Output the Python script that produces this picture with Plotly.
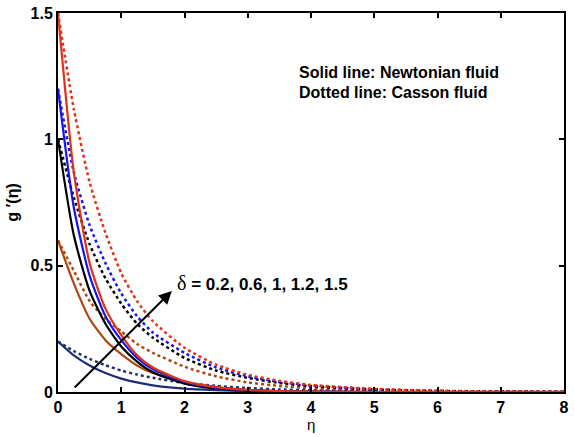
import plotly.graph_objects as go

eta = [0, 0.25, 0.5, 0.75, 1, 1.25, 1.5, 2, 2.5, 3, 3.5, 4, 5, 6, 7, 8]

delta_labels = ["0.2", "0.6", "1", "1.2", "1.5"]
colors = ["#1b2f78", "#b0450f", "#000000", "#1414f0", "#e0321a"]

# Newtonian fluid (solid lines)
newt_02 = [0.2, 0.145, 0.105, 0.075, 0.053, 0.038, 0.026, 0.013, 0.007, 0.003, 0.001, 0.0, 0.0, 0.0, 0.0, 0.0]
newt_06 = [0.6, 0.43, 0.29, 0.205, 0.15, 0.105, 0.075, 0.038, 0.019, 0.009, 0.004, 0.002, 0.0, 0.0, 0.0, 0.0]
newt_10 = [1.0, 0.62, 0.40, 0.27, 0.18, 0.12, 0.078, 0.033, 0.014, 0.006, 0.003, 0.001, 0.0, 0.0, 0.0, 0.0]
newt_12 = [1.2, 0.73, 0.46, 0.30, 0.205, 0.135, 0.09, 0.04, 0.017, 0.007, 0.003, 0.001, 0.0, 0.0, 0.0, 0.0]
newt_15 = [1.5, 0.87, 0.51, 0.33, 0.225, 0.145, 0.097, 0.043, 0.019, 0.008, 0.004, 0.002, 0.0, 0.0, 0.0, 0.0]

# Casson fluid (dotted lines)
cas_02 = [0.2, 0.162, 0.131, 0.106, 0.085, 0.069, 0.056, 0.036, 0.024, 0.016, 0.010, 0.007, 0.003, 0.001, 0.0, 0.0]
cas_06 = [0.6, 0.48, 0.36, 0.29, 0.24, 0.19, 0.155, 0.10, 0.062, 0.038, 0.024, 0.015, 0.006, 0.002, 0.001, 0.0]
cas_10 = [1.0, 0.77, 0.585, 0.45, 0.35, 0.27, 0.215, 0.135, 0.085, 0.056, 0.036, 0.023, 0.010, 0.004, 0.002, 0.001]
cas_12 = [1.2, 0.87, 0.66, 0.51, 0.39, 0.30, 0.235, 0.155, 0.097, 0.062, 0.040, 0.026, 0.011, 0.004, 0.002, 0.001]
cas_15 = [1.5, 1.12, 0.83, 0.63, 0.47, 0.36, 0.28, 0.175, 0.108, 0.068, 0.044, 0.028, 0.012, 0.005, 0.002, 0.001]

newt = [newt_02, newt_06, newt_10, newt_12, newt_15]
cas = [cas_02, cas_06, cas_10, cas_12, cas_15]

fig = go.Figure()
for lab, c, ys in zip(delta_labels, colors, cas):
    fig.add_trace(go.Scatter(x=eta, y=ys, mode="lines", name="Casson δ=" + lab,
                             line=dict(color=c, width=2.5, dash="3px,3px", shape="spline", smoothing=0.6)))
for lab, c, ys in zip(delta_labels, colors, newt):
    fig.add_trace(go.Scatter(x=eta, y=ys, mode="lines", name="Newtonian δ=" + lab,
                             line=dict(color=c, width=2.2, shape="spline", smoothing=0.6)))

font_main = dict(family="Arial, Liberation Sans, sans-serif", size=16, color="black")

fig.add_annotation(x=1.8, y=0.4, ax=0.24, ay=0.012, xref="x", yref="y", axref="x", ayref="y",
                   text="", showarrow=True, arrowhead=2, arrowsize=1.3, arrowwidth=2, arrowcolor="black")
fig.add_annotation(x=1.85, y=0.43, xref="x", yref="y", xanchor="left", yanchor="middle",
                   text="<span style='font-family:Liberation Serif;font-size:20px'>δ</span><b> = 0.2, 0.6, 1, 1.2, 1.5</b>",
                   showarrow=False, font=dict(family="Arial, Liberation Sans, sans-serif", size=17, color="black"))
fig.add_annotation(x=3.78, y=1.265, xref="x", yref="y", xanchor="left", yanchor="middle",
                   text="<b>Solid line: Newtonian fluid</b>", showarrow=False, font=font_main)
fig.add_annotation(x=3.78, y=1.185, xref="x", yref="y", xanchor="left", yanchor="middle",
                   text="<b>Dotted line: Casson fluid</b>", showarrow=False, font=font_main)
fig.add_annotation(x=0.5, y=-0.058, xref="paper", yref="paper", xanchor="center", yanchor="top",
                   text="η", showarrow=False, font=dict(family="Arial", size=15, color="black"))

axis_common = dict(showgrid=False, zeroline=False, showline=True, linecolor="black", linewidth=2,
                   mirror="ticks", ticks="inside", ticklen=5, tickwidth=1.5, tickcolor="black",
                   tickfont=dict(family="Arial, Liberation Sans, sans-serif", size=16, color="black", weight="bold"))

fig.update_xaxes(range=[0, 8], tickvals=[0, 1, 2, 3, 4, 5, 6, 7, 8], **axis_common)
fig.update_yaxes(range=[0, 1.5], tickvals=[0, 0.5, 1, 1.5], ticktext=["0", "0.5", "1", "1.5"],
                 title=dict(text="<b>g ′(η)</b>", font=dict(family="Arial", size=16, color="black"), standoff=8),
                 **axis_common)

fig.update_layout(width=574, height=437, showlegend=False, plot_bgcolor="white", paper_bgcolor="white",
                  margin=dict(l=58, r=5, t=12, b=45))

fig.write_html("out.html")
